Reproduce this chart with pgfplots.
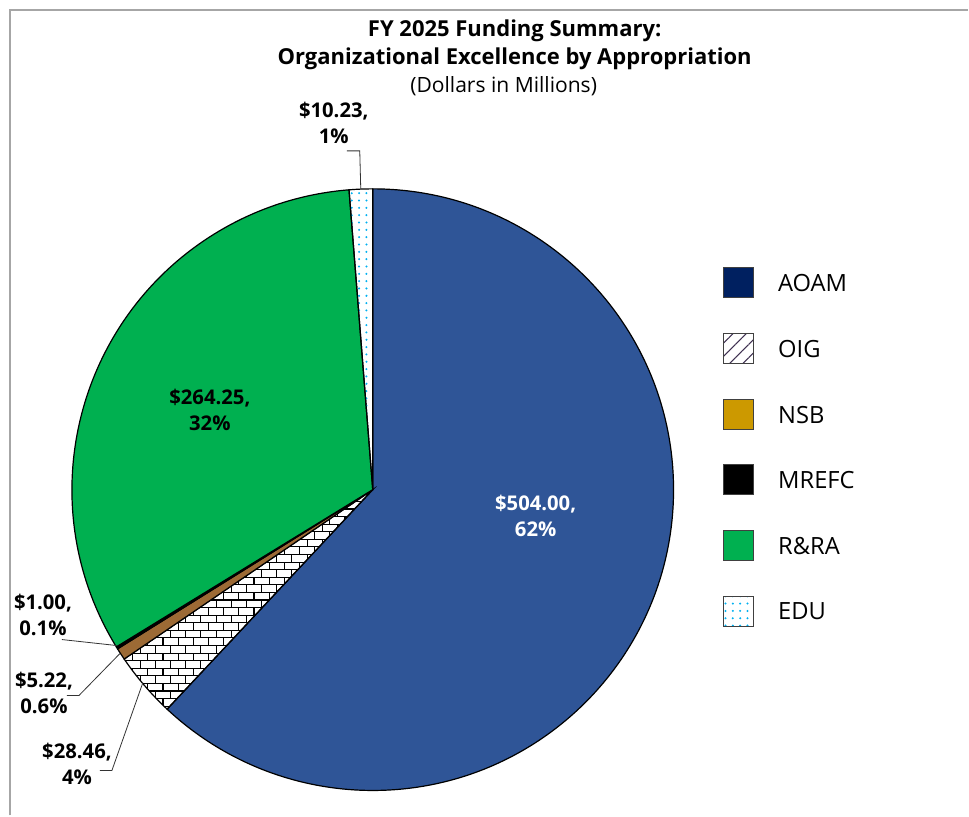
\documentclass[border=0pt]{standalone}
\usepackage{pgfplots}
\pgfplotsset{compat=1.18}
\usepackage{pgfplotstable}
\usetikzlibrary{patterns,patterns.meta}
\usepackage{fontspec}
\setmainfont{Open Sans}

\definecolor{aoampie}{HTML}{2F5597}
\definecolor{aoamkey}{HTML}{002060}
\definecolor{nsbpie}{HTML}{9C6A35}
\definecolor{nsbkey}{HTML}{CC9900}
\definecolor{rra}{HTML}{00B050}
\definecolor{edudot}{HTML}{00B0F0}
\definecolor{oigkey}{HTML}{3F3151}
\definecolor{framegray}{HTML}{A6A6A6}
\definecolor{keyedge}{HTML}{404040}

% FY 2025 values, in the order the slices run clockwise from 12 o'clock
\pgfplotstableread{
value
504.00
28.46
5.22
1.00
264.25
10.23
}\slices

\tikzset{
  slice0/.style={fill=aoampie, draw=black, line width=0.9pt},
  slice1/.style={pattern=bricks, pattern color=black, draw=black, line width=0.9pt},
  slice2/.style={fill=nsbpie, draw=black, line width=0.9pt},
  slice3/.style={fill=black, draw=black, line width=0.9pt},
  slice4/.style={fill=rra, draw=black, line width=0.9pt},
  slice5/.style={pattern={Dots[distance=5.5pt, radius=0.85pt]}, pattern color=edudot, draw=black, line width=0.9pt},
  lead/.style={draw=black!80, line width=0.6pt},
  lbl/.style={align=center, font=\bfseries\fontsize{15.2}{19.5}\selectfont},
  key/.style={draw=keyedge, line width=0.7pt},
  keytxt/.style={anchor=west, font=\fontsize{17.8}{20}\selectfont},
}

\begin{document}
\begin{tikzpicture}
\pgfplotstablegetrowsof{\slices}
\pgfmathtruncatemacro\nrows{\pgfplotsretval-1}
\def\total{0}
\pgfplotsforeachungrouped \i in {0,...,\nrows}{%
  \pgfplotstablegetelem{\i}{value}\of\slices
  \pgfmathsetmacro\total{\total+\pgfplotsretval}%
}
\def\R{225.75pt}
\begin{axis}[
    scale only axis,
    width=726.75pt, height=612pt,
    xmin=0, xmax=969, ymin=0, ymax=816,
    hide axis, clip=false,
]
\path (axis cs:0,0) rectangle (axis cs:969,816);
% frame
\draw[framegray, line width=1pt] (axis cs:10,0) -- (axis cs:10,806) -- (axis cs:969,806);

% pie slices
\def\acur{90}
\pgfplotsforeachungrouped \i in {0,...,\nrows}{%
  \pgfplotstablegetelem{\i}{value}\of\slices
  \pgfmathsetmacro\anext{\acur-360*(\pgfplotsretval/\total)}%
  \edef\temp{\noexpand\path[slice\i] (axis cs:373,326) -- ([shift={(axis cs:373,326)}]\acur:\R) arc[start angle=\acur, end angle=\anext, radius=\R] -- cycle;}%
  \temp
  \let\acur\anext
}

% titles
\node[anchor=base, font=\bfseries\fontsize{16.5}{19}\selectfont] at (axis cs:515,779) {FY 2025 Funding Summary:};
\node[anchor=base, font=\bfseries\fontsize{16.5}{19}\selectfont] at (axis cs:515,751) {Organizational Excellence by Appropriation};
\node[anchor=base, font=\fontsize{15.8}{18}\selectfont] at (axis cs:504,723) {(Dollars in Millions)};

% data labels
\node[lbl, text=white] at (axis cs:536,300) {\$504.00,\\62\%};
\node[lbl] at (axis cs:210,406) {\$264.25,\\32\%};
\node[lbl] at (axis cs:334,693) {\$10.23,\\1\%};
\node[lbl] at (axis cs:43,201) {\$1.00,\\0.1\%};
\node[lbl] at (axis cs:44,123) {\$5.22,\\0.6\%};
\node[lbl] at (axis cs:77,52) {\$28.46,\\4\%};
\draw[lead] (axis cs:347,665) -- (axis cs:360,665) -- (axis cs:361,627);
\draw[lead] (axis cs:62,176) -- (axis cs:117,170);
\draw[lead] (axis cs:67,120) -- (axis cs:79,120) -- (axis cs:120,162);
\draw[lead] (axis cs:100,45) -- (axis cs:112,45) -- (axis cs:143,133);

% legend
\draw[key, fill=aoamkey] (axis cs:724,518) rectangle (axis cs:754,548);
\node[keytxt] at (axis cs:774,533) {AOAM};
\draw[key, pattern={Lines[angle=45, distance=7pt, line width=0.8pt]}, pattern color=oigkey] (axis cs:724,452) rectangle (axis cs:754,482);
\node[keytxt] at (axis cs:774,467) {OIG};
\draw[key, fill=nsbkey] (axis cs:724,386) rectangle (axis cs:754,416);
\node[keytxt] at (axis cs:774,401) {NSB};
\draw[key, fill=black] (axis cs:724,321) rectangle (axis cs:754,351);
\node[keytxt] at (axis cs:774,336) {MREFC};
\draw[key, fill=rra] (axis cs:724,255) rectangle (axis cs:754,285);
\node[keytxt] at (axis cs:774,270) {R\&RA};
\draw[key, pattern={Dots[distance=5.5pt, radius=0.85pt]}, pattern color=edudot] (axis cs:724,189) rectangle (axis cs:754,219);
\node[keytxt] at (axis cs:774,204) {EDU};
\end{axis}
\end{tikzpicture}
\end{document}
